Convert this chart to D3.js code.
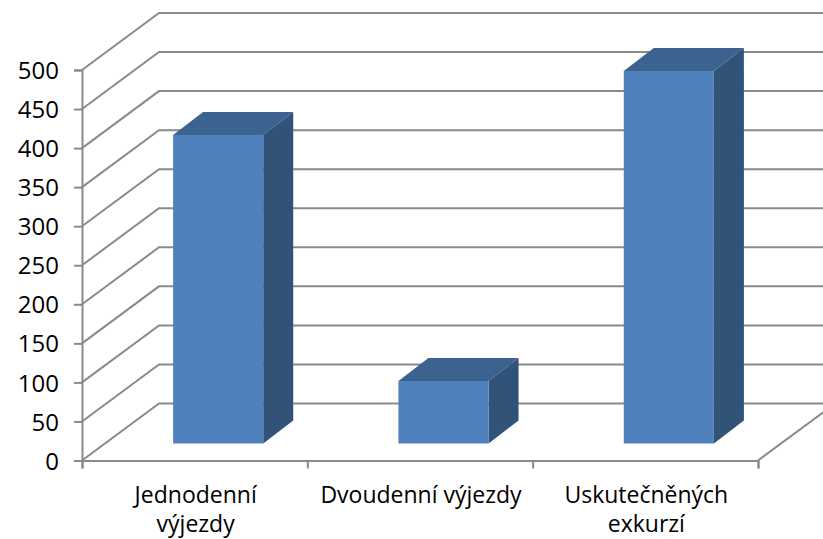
<!DOCTYPE html>
<html lang="en">
<head>
<meta charset="UTF-8">
<title>Výjezdy a exkurze</title>
<script src="https://d3js.org/d3.v7.min.js"></script>
<style>
html,body{margin:0;padding:0;background:#fff;overflow:hidden}
text{font-family:"Open Sans",sans-serif;fill:#000}
</style>
</head>
<body>
<script>
var categories = [["Jednodenní","výjezdy"],["Dvoudenní výjezdy"],["Uskutečněných","exkurzí"]];
var values = [395,80,477];
var yTicks = [0,50,100,150,200,250,300,350,400,450,500];

var width = 823, height = 539;
var left = 82, right = 758, floorY = 460.5, topY = 70;
// oblique offsets of the 3d box
var wallDx = 77, wallDy = -57;
var barDx = 30, barDy = -23;
var barInX = 23.5, barInY = -17;
var grid = "#8a8a8a";

var svg = d3.select("body").append("svg").attr("width",width).attr("height",height).style("display","block");
var x = d3.scaleBand().domain(d3.range(categories.length)).range([left,right]).paddingInner(0).paddingOuter(0);
var y = d3.scaleLinear().domain([0,500]).range([floorY,topY]);

//walls
yTicks.forEach(function(t){
	var p = d3.path();
	p.moveTo(left,y(t));
	p.lineTo(left+wallDx,y(t)+wallDy);
	p.lineTo(right+wallDx,y(t)+wallDy);
	svg.append("path").attr("d",p.toString()).attr("fill","none").attr("stroke",grid).attr("stroke-width",2);
});
svg.append("path").attr("d","M"+right+","+floorY+"L"+(right+wallDx)+","+(floorY+wallDy)).attr("fill","none").attr("stroke",grid).attr("stroke-width",2);

//axes
var yAxis = d3.axisLeft(y).tickValues(yTicks).tickSize(8).tickPadding(15);
var gy = svg.append("g").attr("transform","translate("+left+",0)").call(yAxis);
gy.selectAll("text").style("font-size","24px").attr("dy","0.36em");

var xAxis = d3.axisBottom(d3.scaleLinear().domain([0,3]).range([left,right])).tickValues([0,1,2,3]).tickSize(8).tickFormat("");
svg.append("g").attr("transform","translate(0,"+floorY+")").call(xAxis);
svg.selectAll(".domain,.tick line").attr("stroke",grid).attr("stroke-width",2);

//bars
var barW = x.bandwidth()*0.4;
values.forEach(function(v,i){
	var x0 = x(i)+x.bandwidth()/2-barW/2+barInX, x1 = x0+barW;
	var yb = y(0)+barInY, yt = y(v)+barInY;
	svg.append("polygon").attr("fill","#3C6290")
		.attr("points",[[x0,yt],[x0+barDx,yt+barDy],[x1+barDx,yt+barDy],[x1,yt]].join(" "));
	svg.append("polygon").attr("fill","#325378")
		.attr("points",[[x1,yt],[x1+barDx,yt+barDy],[x1+barDx,yb+barDy],[x1,yb]].join(" "));
	svg.append("rect").attr("x",x0).attr("y",yt).attr("width",barW).attr("height",yb-yt).attr("fill","#4F81BD");
});

//category labels, second line kept inside the picture
categories.forEach(function(lines,i){
	var t = svg.append("text").attr("text-anchor","middle").style("font-size","23px");
	lines.forEach(function(s,j){
		t.append("tspan").attr("x",x(i)+x.bandwidth()/2+1).attr("y",503+j*29).text(s);
	});
});
</script>
</body>
</html>
